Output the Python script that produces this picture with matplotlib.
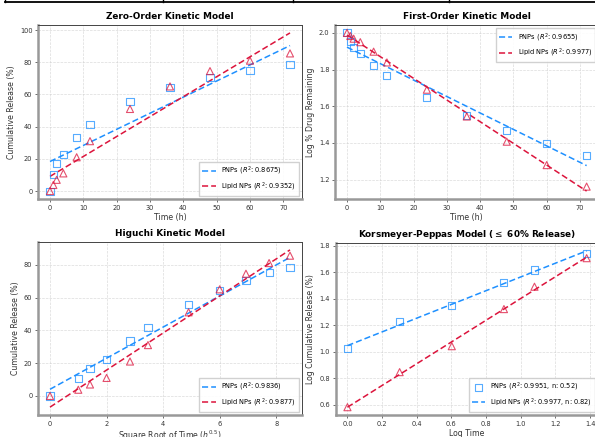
"""Drug release kinetics: zero-order, first-order, Higuchi and Korsmeyer-Peppas fits."""

import matplotlib
matplotlib.use("Agg")
import matplotlib.pyplot as plt
import numpy as np
from matplotlib.lines import Line2D

# --- data ---
time_h = [0, 1, 2, 4, 8, 12, 24, 36, 48, 60, 72]
pnp_release = [0, 10.5, 17.0, 22.5, 33.5, 41.5, 55.5, 64.5, 70.5, 75.0, 78.5]
lipid_release = [0, 3.8, 7.0, 11.0, 21.0, 31.0, 51.0, 65.0, 74.5, 81.0, 85.5]

zero_r2 = ["0.8675", "0.9352"]
first_r2 = ["0.9655", "0.9977"]
higuchi_r2 = ["0.9836", "0.9877"]
kp_r2 = ["0.9951", "0.9977"]
kp_n = ["0.52", "0.82"]

BLUE = "#1E90FF"
RED = "#DC143C"
W, H = 595, 437

plt.rcParams.update({
    "font.family": "DejaVu Sans",
    "axes.edgecolor": "#444444",
    "axes.linewidth": 0.7,
    "xtick.labelsize": 4.8,
    "ytick.labelsize": 4.8,
    "xtick.major.size": 2,
    "ytick.major.size": 2,
    "xtick.major.width": 0.5,
    "ytick.major.width": 0.5,
    "xtick.major.pad": 2,
    "ytick.major.pad": 2,
    "xtick.color": "#333333",
    "ytick.color": "#333333",
})

fig = plt.figure(figsize=(W / 100, H / 100), dpi=100)

LEGEND_KW = dict(fontsize=4.8, framealpha=0.9, edgecolor="#cccccc", fancybox=False,
                 borderpad=0.45, labelspacing=0.5, handlelength=2.0)


def px_axes(x0, x1, y0, y1):
    return fig.add_axes([x0 / W, 1 - y1 / H, (x1 - x0) / W, (y1 - y0) / H])


def style(ax, title, xlabel, ylabel):
    ax.set_title(title, fontsize=6.4, fontweight="bold", pad=4)
    ax.set_xlabel(xlabel, fontsize=5.6, labelpad=1.5, color="#333333")
    ax.set_ylabel(ylabel, fontsize=5.6, labelpad=3, color="#333333")
    ax.grid(True, linestyle="--", linewidth=0.5, color="#cccccc", alpha=0.7)
    ax.set_axisbelow(True)
    for side in ("left", "bottom"):
        ax.spines[side].set_linewidth(1.8)
        ax.spines[side].set_color("#999999")


# panel positions in pixels (left, right, top, bottom)
ax1 = px_axes(38, 302, 25, 199)
ax2 = px_axes(335, 598.6, 25, 199)
ax3 = px_axes(38, 302, 242, 415)
ax4 = px_axes(335.5, 598.6, 243, 415)

t = np.array(time_h, float)
series = [
    (np.array(pnp_release, float), BLUE, "s"),
    (np.array(lipid_release, float), RED, "^"),
]


def draw(ax, xvals, yvals_list):
    lines = []
    for x, y, (_, col, mk) in zip(xvals, yvals_list, series):
        ax.scatter(x, y, marker=mk, s=26, facecolors="none", edgecolors=col,
                   linewidths=0.8, alpha=0.75, zorder=3)
        slope, icpt = np.polyfit(x, y, 1)
        xx = np.linspace(x.min(), x.max(), 50)
        ln, = ax.plot(xx, slope * xx + icpt, "--", color=col, linewidth=1.1,
                      dashes=(4, 2))
        lines.append(ln)
    return lines


# Zero-order
h = draw(ax1, [t, t], [s[0] for s in series])
ax1.legend(h, [f"PNPs ($R^2$: {zero_r2[0]})", f"Lipid NPs ($R^2$: {zero_r2[1]})"],
           loc="lower right", **LEGEND_KW)
style(ax1, "Zero-Order Kinetic Model", "Time (h)", "Cumulative Release (%)")
ax1.set_yticks([0, 20, 40, 60, 80, 100])

# First-order
h = draw(ax2, [t, t], [np.log10(100 - s[0]) for s in series])
ax2.legend(h, [f"PNPs ($R^2$: {first_r2[0]})", f"Lipid NPs ($R^2$: {first_r2[1]})"],
           loc="upper right", **LEGEND_KW)
style(ax2, "First-Order Kinetic Model", "Time (h)", "Log % Drug Remaining")

# Higuchi
sq = np.sqrt(t)
h = draw(ax3, [sq, sq], [s[0] for s in series])
ax3.legend(h, [f"PNPs ($R^2$: {higuchi_r2[0]})", f"Lipid NPs ($R^2$: {higuchi_r2[1]})"],
           loc="lower right", **LEGEND_KW)
style(ax3, "Higuchi Kinetic Model", "Square Root of Time ($h^{0.5}$)", "Cumulative Release (%)")

# Korsmeyer-Peppas (<= 60% release, t > 0)
kp_x, kp_y = [], []
for s in series:
    m = (t > 0) & (s[0] <= 60)
    kp_x.append(np.log10(t[m]))
    kp_y.append(np.log10(s[0][m]))
draw(ax4, kp_x, kp_y)
# labels land on the first two artists (PNP markers, PNP line), as in the original
ax4.legend([f"PNPs ($R^2$: {kp_r2[0]}, n: {kp_n[0]})",
            f"Lipid NPs ($R^2$: {kp_r2[1]}, n: {kp_n[1]})"],
           loc="lower right", **LEGEND_KW)
style(ax4, "Korsmeyer-Peppas Model ($\\leq$ 60% Release)", "Log Time",
      "Log Cumulative Release (%)")

# remnant of the table border above the figure
fig.add_artist(Line2D([5 / W, 1], [1 - 2.2 / H] * 2, color="black", linewidth=1.3))
for xv in (5, 163, 293, 449):
    fig.add_artist(Line2D([xv / W] * 2, [1, 1 - 2.2 / H], color="black", linewidth=1.0))

fig.savefig("out.png", dpi=100, facecolor="white")
